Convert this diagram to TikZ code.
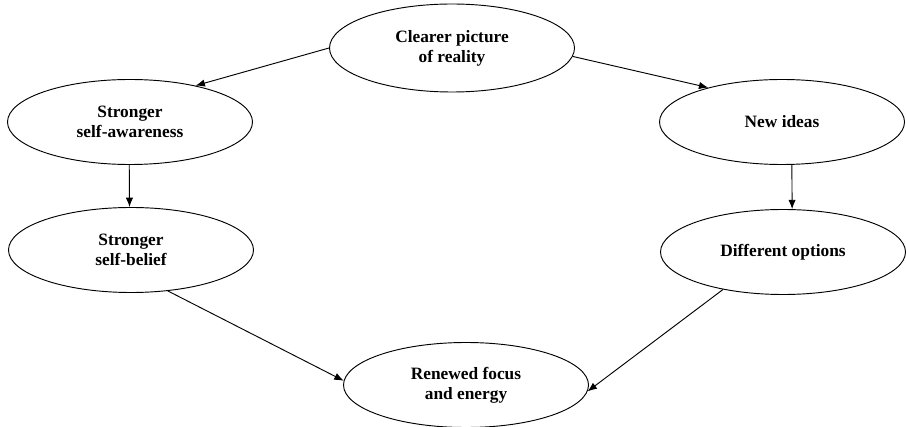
\documentclass[tikz,border=0pt]{standalone}
\usepackage{fontspec}
\setmainfont{Liberation Serif}
\usetikzlibrary{shapes.geometric,arrows.meta}
\tikzset{
  bubble/.style={draw, ellipse, line width=0.7pt, minimum width=245*0.75pt,
    minimum height=85*0.75pt, inner sep=0pt, align=center,
    font=\fontsize{13}{15}\selectfont\bfseries}
}
\begin{document}
\begin{tikzpicture}[x=0.75pt,y=-0.75pt]
    \useasboundingbox (0,0) rectangle (906,427);
    \node[bubble, minimum height=88*0.75pt] (reality) at (452,48) {Clearer picture\\of reality};
    \node[bubble] (aware) at (130,122) {Stronger\\self-awareness};
    \node[bubble] (ideas) at (782,122) {New ideas};
    \node[bubble] (belief) at (131,250) {Stronger\\self-belief};
    \node[bubble] (options) at (783,252) {Different options};
    \node[bubble] (renewed) at (466,385) {Renewed focus\\and energy};
    \begin{scope}[-{Latex[length=7pt,width=5.5pt]}, line width=0.7pt]
      \draw (reality.west) -- (aware.29);
      \draw (reality.-4) -- (ideas.155);
      \draw (aware.-91) -- (belief.92);
      \draw (ideas.-77) -- (options.78);
      \draw (belief.-48) -- (renewed.178);
      \draw (options.212) -- (renewed.-3);
    \end{scope}
  \end{tikzpicture}
\end{document}
